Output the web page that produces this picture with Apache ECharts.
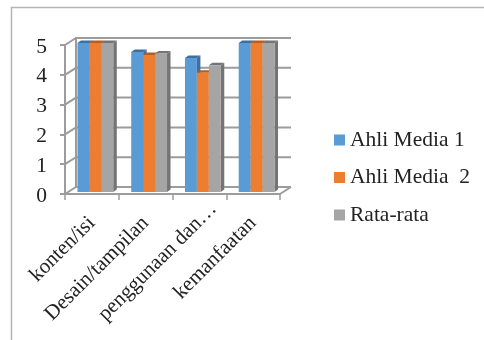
<!DOCTYPE html>
<html>
<head>
<meta charset="utf-8">
<style>html,body{margin:0;padding:0;background:#fff}#chart{width:484px;height:340px}</style>
<script src="https://cdn.jsdelivr.net/npm/echarts@6/dist/echarts.min.js"></script>
</head>
<body>
<div id="chart"></div>
<script>
const categories = ['konten/isi', 'Desain/tampilan', 'penggunaan dan…', 'kemanfaatan'];
const ahliMedia1 = [5, 4.7, 4.5, 5];
const ahliMedia2 = [5, 4.6, 4.0, 5];
const rataRata = [5, 4.65, 4.25, 5];
const yTicks = [0, 1, 2, 3, 4, 5];
const seriesNames = ['Ahli Media 1', 'Ahli Media  2', 'Rata-rata'];
const frontColors = ['#5B9BD5', '#ED7D31', '#A5A5A5'];
const sideColors = ['#3F6F9C', '#B25E24', '#747474'];

const FONT = '"Liberation Serif", serif';
const TEXT = '#222';
const LINE = '#9c9c9c';
const DEPTH = [11, -7];      // wall depth of the pseudo-3D box
const BAR_DEPTH = [3.5, -2.5];
const BAR_SHIFT = [3.5, -2];  // bars stand slightly inside the floor
const BAR_FRACTION = 0.222;

const lineStyle = { stroke: LINE, lineWidth: 2, fill: null };

function renderWall(params, api) {
  const tick = api.value(1);
  const rect = params.coordSys;
  const y = api.coord([0, tick])[1];
  const children = [
    // wall line along the back and the slanted step on the side wall
    { type: 'polyline', shape: { points: [
      [rect.x, y],
      [rect.x + DEPTH[0], y + DEPTH[1]],
      [rect.x + rect.width + DEPTH[0], y + DEPTH[1]]
    ] }, style: lineStyle }
  ];
  if (tick === 0) {
    const top = api.coord([0, yTicks[yTicks.length - 1]])[1];
    children.push(
      { type: 'line', shape: { x1: rect.x + DEPTH[0], y1: y + DEPTH[1], x2: rect.x + DEPTH[0], y2: top + DEPTH[1] }, style: lineStyle },
      { type: 'line', shape: { x1: rect.x + rect.width, y1: y, x2: rect.x + rect.width + DEPTH[0], y2: y + DEPTH[1] }, style: lineStyle }
    );
  }
  return { type: 'group', children };
}

function renderBar(params, api) {
  const idx = params.seriesIndex - 1;
  const base = api.coord([api.value(0), 0]);
  const head = api.coord([api.value(0), api.value(1)]);
  const w = api.size([1, 0])[0] * BAR_FRACTION;
  const x0 = base[0] + BAR_SHIFT[0] + (idx - 1.5) * w;
  const x1 = x0 + w;
  const yb = base[1] + BAR_SHIFT[1];
  const yt = head[1] + BAR_SHIFT[1];
  const [dx, dy] = BAR_DEPTH;
  return {
    type: 'group',
    children: [
      { type: 'polygon', shape: { points: [[x1, yb], [x1 + dx, yb + dy], [x1 + dx, yt + dy], [x1, yt]] }, style: { fill: sideColors[idx] } },
      { type: 'polygon', shape: { points: [[x0, yt], [x0 + dx, yt + dy], [x1 + dx, yt + dy], [x1, yt]] }, style: { fill: sideColors[idx] } },
      { type: 'rect', shape: { x: x0, y: yt, width: w, height: yb - yt }, style: { fill: frontColors[idx] } }
    ]
  };
}

const barSeries = [ahliMedia1, ahliMedia2, rataRata].map((values, i) => ({
  type: 'custom',
  name: seriesNames[i],
  renderItem: renderBar,
  clip: false,
  itemStyle: { color: frontColors[i] },
  encode: { x: 0, y: 1 },
  data: values.map((v, c) => [c, v])
}));

const chart = echarts.init(document.getElementById('chart'), null, { renderer: 'canvas' });
chart.setOption({
  animation: false,
  backgroundColor: '#fff',
  grid: { left: 65, right: 204, top: 45, bottom: 146 },
  xAxis: {
    type: 'category',
    // the truncated label overhangs its tick by the width of the ellipsis
    data: categories.map(c => c.endsWith('…') ? { value: c, textStyle: { padding: [0, -20, 0, 0] } } : c),
    axisLine: { lineStyle: { color: LINE, width: 2 } },
    axisTick: { show: true, length: 6, alignWithLabel: false, lineStyle: { color: LINE, width: 1.5 } },
    axisLabel: { interval: 0, rotate: 45, margin: 26, fontFamily: FONT, fontSize: 21, color: TEXT }
  },
  yAxis: {
    type: 'value',
    min: 0,
    max: 5,
    interval: 1,
    axisLine: { show: true, lineStyle: { color: LINE, width: 2 } },
    axisTick: { show: true, length: 5, lineStyle: { color: LINE, width: 2 } },
    splitLine: { show: false },
    axisLabel: { margin: 18, verticalAlign: 'top', padding: [-9, 0, 0, 0], fontFamily: FONT, fontSize: 21.5, color: TEXT }
  },
  legend: {
    orient: 'vertical',
    left: 329,
    top: 124,
    itemWidth: 11,
    itemHeight: 11,
    itemGap: 15.5,
    icon: 'rect',
    data: seriesNames,
    textStyle: { fontFamily: FONT, fontSize: 21.5, color: TEXT }
  },
  graphic: [
    // chart area border: top and left edges
    { type: 'polyline', silent: true, shape: { points: [[11.5, 340], [11.5, 7.5], [484, 7.5]] }, style: { stroke: '#b5b5b5', lineWidth: 1.5, fill: null } }
  ],
  series: [
    {
      type: 'custom',
      renderItem: renderWall,
      silent: true,
      clip: false,
      encode: { x: 0, y: 1 },
      data: yTicks.map(t => [0, t])
    },
    ...barSeries
  ]
});
</script>
</body>
</html>
